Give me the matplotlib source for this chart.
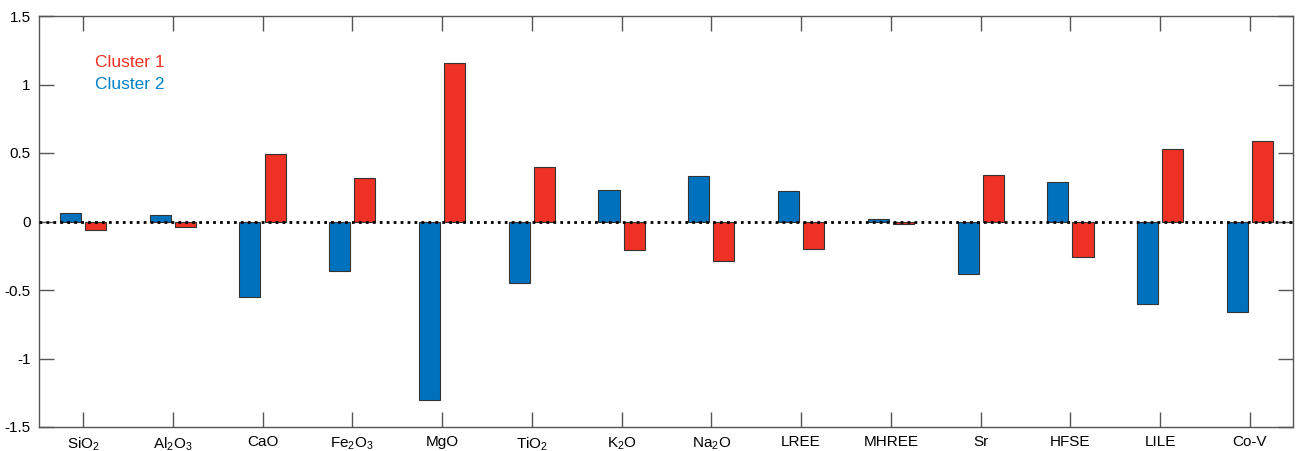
import matplotlib
matplotlib.use('Agg')
import matplotlib.pyplot as plt
import numpy as np

categories = ['SiO$_2$', 'Al$_2$O$_3$', 'CaO', 'Fe$_2$O$_3$', 'MgO', 'TiO$_2$', 'K$_2$O',
              'Na$_2$O', 'LREE', 'MHREE', 'Sr', 'HFSE', 'LILE', 'Co-V']
cluster2 = [0.065, 0.05, -0.55, -0.36, -1.30, -0.45, 0.23, 0.33, 0.22, 0.015, -0.38, 0.29, -0.60, -0.66]
cluster1 = [-0.06, -0.04, 0.49, 0.32, 1.16, 0.40, -0.21, -0.29, -0.20, -0.015, 0.34, -0.26, 0.53, 0.59]

blue = '#0072BD'
red = '#EE3124'

plt.rcParams['font.family'] = ['Liberation Sans', 'DejaVu Sans']
plt.rcParams['mathtext.fontset'] = 'custom'
plt.rcParams['mathtext.rm'] = 'Liberation Sans'

fig = plt.figure(figsize=(12.98, 4.51), dpi=100)
ax = fig.add_axes([39 / 1298, 1 - 427 / 451, (1293 - 39) / 1298, (427 - 16) / 451])

x = np.arange(1, len(categories) + 1)
w = 0.235
ax.bar(x - 0.14, cluster2, w, color=blue, edgecolor='#333333', linewidth=0.8, zorder=2)
ax.bar(x + 0.14, cluster1, w, color=red, edgecolor='#333333', linewidth=0.8, zorder=2)
ax.axhline(0, color='black', linestyle=(0, (1, 1.5)), linewidth=2, zorder=3)

ax.set_xlim(0.51, len(categories) + 0.48)
ax.set_ylim(-1.5, 1.5)
ax.set_xticks(x)
ax.set_xticklabels(categories)
ax.set_yticks([-1.5, -1, -0.5, 0, 0.5, 1, 1.5])
ax.set_yticklabels(['-1.5', '-1', '-0.5', '0', '0.5', '1', '1.5'])
ax.tick_params(direction='in', top=True, right=True, length=11, width=1,
               color='#555555', labelsize=11, pad=6)
for s in ax.spines.values():
    s.set_color('#555555')
    s.set_linewidth(1)

ax.text(0.0445, 0.877, 'Cluster 1', color=red, fontsize=12.5, transform=ax.transAxes)
ax.text(0.0445, 0.823, 'Cluster 2', color='#0082C8', fontsize=12.5, transform=ax.transAxes)

fig.savefig('out.png', dpi=100, facecolor='white')
